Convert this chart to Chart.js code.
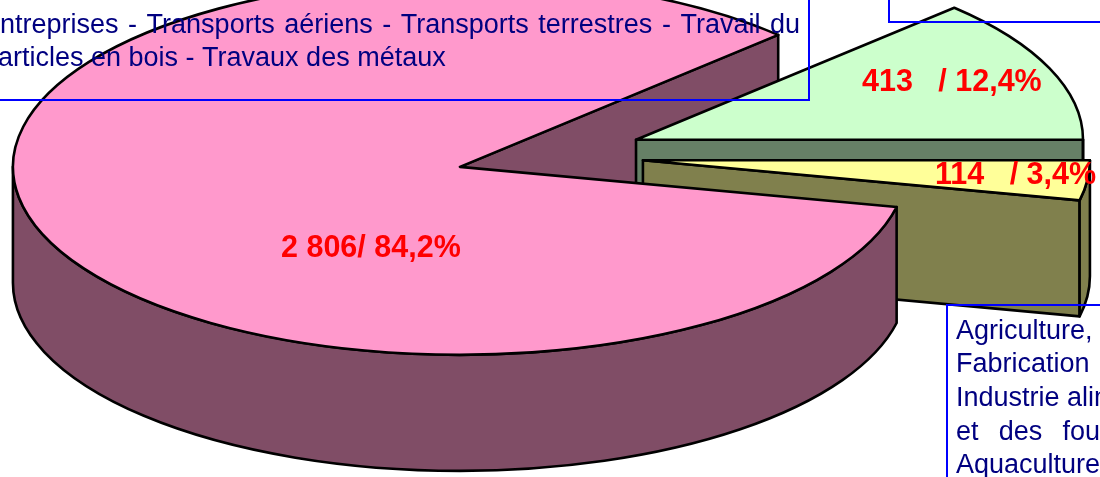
<!DOCTYPE html>
<html><head><meta charset="utf-8">
<style>html,body{margin:0;padding:0;background:#fff;overflow:hidden}canvas{display:block}</style>
<script src="https://cdn.jsdelivr.net/npm/chart.js@4/dist/chart.umd.min.js"></script>
</head><body><canvas id="c" width="1100" height="477"></canvas>
<script>
const categories = ['413   / 12,4%', '114   / 3,4%', '2 806/ 84,2%'];
const values = [413, 114, 2806];
const topColors = ['#CCFFCC', '#FFFF99', '#FF99CC'];
const wallColors = ['#668066', '#80804D', '#804D66'];
const boxLinesTopLeft = ['ntreprises - Transports aériens - Transports terrestres - Travail du', 'articles en bois - Travaux des métaux'];
const boxLinesBottomRight = ['Agriculture,', 'Fabrication', 'Industrie alim', 'et des fou', 'Aquaculture'];

const VIEW = {cx: 543.5, cy: 155.7, k: 188 / 447, depth: 116, radius: 447};
const EXPLODE = [100, 100, 87];
const NUDGE_Y = [0, 0, 1];
const GREEN = 0, YELLOW = 1, PINK = 2;
const FONT_LABEL = 'bold 30.5px "Liberation Sans", Arial, sans-serif';
const FONT_BOX = '27px "Liberation Sans", Arial, sans-serif';

function geom(el, i) {
  const p = el.getProps(['x', 'y', 'startAngle', 'endAngle', 'outerRadius'], false);
  const mid = (p.startAngle + p.endAngle) / 2;
  const dx = Math.cos(mid) * EXPLODE[i], dy = VIEW.k * Math.sin(mid) * EXPLODE[i] + NUDGE_Y[i];
  return {px: VIEW.cx + dx, py: VIEW.cy + dy, r: p.outerRadius, ry: p.outerRadius * VIEW.k, s: p.startAngle, e: p.endAngle, ex: p.x, ey: p.y};
}
function style(ctx, fill) {
  ctx.fillStyle = fill; ctx.strokeStyle = '#000'; ctx.lineWidth = 2.6; ctx.lineJoin = 'round';
}
function face(ctx, g, a, fill) {
  const x = g.px + g.r * Math.cos(a), y = g.py + g.ry * Math.sin(a), d = VIEW.depth;
  style(ctx, fill);
  ctx.beginPath();
  ctx.moveTo(g.px, g.py); ctx.lineTo(x, y); ctx.lineTo(x, y + d); ctx.lineTo(g.px, g.py + d); ctx.closePath();
  ctx.fill(); ctx.stroke();
}
function rim(ctx, g, fill) {
  const a = Math.max(g.s, 0), b = Math.min(g.e, Math.PI), d = VIEW.depth;
  if (b <= a) return;
  style(ctx, fill);
  ctx.beginPath();
  ctx.ellipse(g.px, g.py, g.r, g.ry, 0, a, b);
  ctx.ellipse(g.px, g.py + d, g.r, g.ry, 0, b, a, true);
  ctx.closePath();
  ctx.fill(); ctx.stroke();
}
function fitted(ctx, text, x, y, right) {
  ctx.wordSpacing = '0px';
  const gaps = text.split(' ').length - 1;
  if (gaps) ctx.wordSpacing = ((right - x - ctx.measureText(text).width) / gaps) + 'px';
  ctx.fillText(text, x, y);
  ctx.wordSpacing = '0px';
}

const pie3d = {
  id: 'pie3d',
  beforeDatasetDraw(chart, args) {
    const ctx = chart.ctx, els = chart.getDatasetMeta(args.index).data;
    const g = els.map(geom);
    ctx.save();
    face(ctx, g[PINK], g[PINK].e, wallColors[PINK]);
    face(ctx, g[GREEN], g[GREEN].e, wallColors[GREEN]);
    rim(ctx, g[GREEN], wallColors[GREEN]);
    face(ctx, g[YELLOW], g[YELLOW].e, wallColors[YELLOW]);
    rim(ctx, g[YELLOW], wallColors[YELLOW]);
    rim(ctx, g[PINK], wallColors[PINK]);
    ctx.restore();
    els.forEach((el, i) => {
      ctx.save();
      ctx.translate(g[i].px, g[i].py);
      ctx.scale(1, VIEW.k);
      ctx.translate(-g[i].ex, -g[i].ey);
      el.draw(ctx);
      ctx.restore();
    });
    ctx.save();
    g.forEach((s, i) => {
      style(ctx, topColors[i]);
      ctx.beginPath();
      ctx.moveTo(s.px, s.py);
      ctx.ellipse(s.px, s.py, s.r, s.ry, 0, s.s, s.e);
      ctx.closePath();
      ctx.stroke();
    });
    ctx.restore();
    return false;
  },
  afterDraw(chart) {
    const ctx = chart.ctx;
    ctx.save();
    ctx.textBaseline = 'alphabetic'; ctx.textAlign = 'left';
    ctx.strokeStyle = '#0000FF'; ctx.lineWidth = 2;
    ctx.beginPath();
    ctx.moveTo(-5, 100); ctx.lineTo(809, 100); ctx.lineTo(809, -5);
    ctx.moveTo(889, -5); ctx.lineTo(889, 22); ctx.lineTo(1105, 22);
    ctx.moveTo(1105, 305); ctx.lineTo(947, 305); ctx.lineTo(947, 482);
    ctx.stroke();
    ctx.fillStyle = '#000080'; ctx.font = FONT_BOX;
    fitted(ctx, boxLinesTopLeft[0], 0, 33, 800);
    ctx.fillText(boxLinesTopLeft[1], -2, 66);
    const ys = [339, 372, 406, 440, 473];
    boxLinesBottomRight.forEach((t, i) => {
      if (i === 3) fitted(ctx, t, 956, ys[i], 1100); else ctx.fillText(t, 956, ys[i]);
    });
    ctx.fillStyle = '#FF0000'; ctx.font = FONT_LABEL;
    ctx.fillText(categories[GREEN], 862, 91);
    ctx.fillText(categories[YELLOW], 935, 184);
    ctx.fillText(categories[PINK], 281, 257);
    ctx.restore();
  }
};

new Chart(document.getElementById('c'), {
  type: 'pie',
  data: {
    labels: categories,
    datasets: [{
      data: values,
      backgroundColor: topColors,
      borderWidth: 0,
      clip: false
    }]
  },
  options: {
    responsive: false,
    animation: false,
    rotation: 45.4,
    radius: VIEW.radius,
    layout: {padding: 0},
    events: [],
    plugins: {legend: {display: false}, tooltip: {enabled: false}, title: {display: false}}
  },
  plugins: [pie3d]
});
</script></body></html>
